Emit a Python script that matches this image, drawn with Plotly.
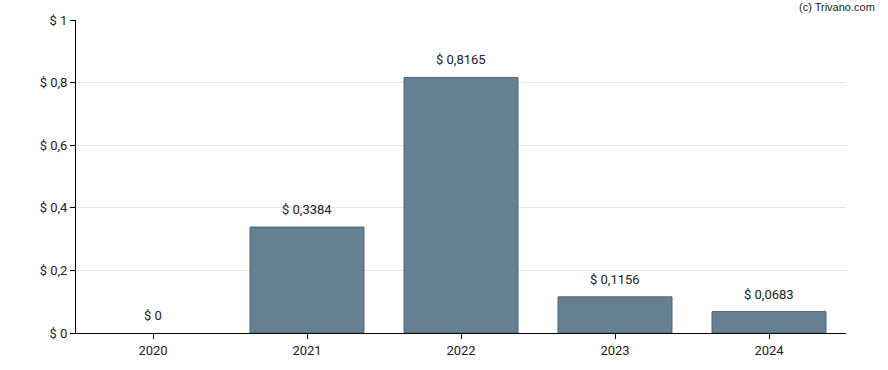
import plotly.graph_objects as go

years = ["2020", "2021", "2022", "2023", "2024"]
values = [0, 0.3384, 0.8165, 0.1156, 0.0683]
labels = ["$ 0", "$ 0,3384", "$ 0,8165", "$ 0,1156", "$ 0,0683"]
ytick_vals = [0, 0.2, 0.4, 0.6, 0.8, 1]
ytick_text = ["$ 0", "$ 0,2", "$ 0,4", "$ 0,6", "$ 0,8", "$ 1"]

fig = go.Figure()
fig.add_trace(go.Bar(
    x=years, y=values,
    marker=dict(color="#667f91",
                line=dict(color="#4b6577", width=[0 if v == 0 else 1 for v in values])),
    width=0.74,
    hoverinfo="skip",
))

for i, (v, t) in enumerate(zip(values, labels)):
    fig.add_annotation(x=i, y=v, text=t, showarrow=False, yanchor="bottom",
                       yshift=8, font=dict(family="Roboto", size=13, color="#222"))

fig.add_annotation(xref="paper", yref="paper", x=1.04, y=1, xanchor="right", yanchor="bottom",
                   yshift=5, text="(c) Trivano.com", showarrow=False,
                   font=dict(family="Arial", size=11, color="#222"))

fig.update_layout(
    width=888, height=370,
    margin=dict(l=76, r=42, t=20, b=34),
    paper_bgcolor="white", plot_bgcolor="white",
    showlegend=False,
    font=dict(family="Roboto", size=13, color="#222"),
    xaxis=dict(type="category", range=[-0.5, 4.5], showline=True, linecolor="black",
               linewidth=1, ticks="outside", ticklen=5, tickcolor="black", showgrid=False),
    yaxis=dict(range=[0, 1], tickvals=ytick_vals, ticktext=ytick_text,
               showline=True, linecolor="black", linewidth=1, ticks="outside",
               ticklen=5, tickcolor="black", showgrid=True, gridcolor="#e6e6e6",
               zeroline=False),
)

fig.write_html("out.html", config={"displayModeBar": False},
               post_script="document.body.style.margin='0';")
